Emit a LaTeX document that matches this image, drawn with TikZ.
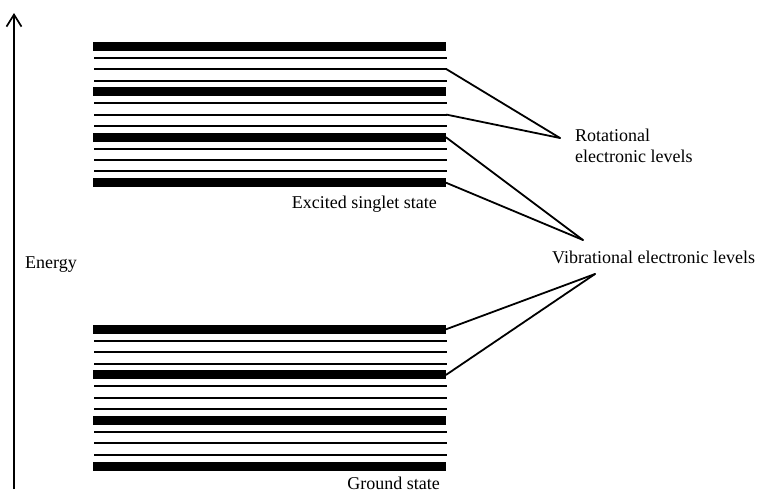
\documentclass[tikz,border=0pt]{standalone}
\usepackage{fontspec}
\setmainfont{Liberation Serif}
\usetikzlibrary{arrows.meta}
\begin{document}
\begin{tikzpicture}[x=1pt,y=-1pt,
  thickbar/.style={line width=9pt},
  thinbar/.style={line width=2pt},
  conn/.style={line width=1.8pt, line cap=round},
  lbl/.style={font=\rmfamily\fontsize{18}{21}\selectfont, inner sep=0pt}]
\useasboundingbox (0,0) rectangle (761,493);
% excited singlet state
\foreach \k in {0,1,2,3}{
  \pgfmathsetmacro\yy{46.5+45.4*\k}
  \draw[thickbar] (93,\yy) -- (446,\yy) coordinate (eT\k);
}
\foreach \k in {0,1,2}{
  \foreach \j in {1,2,3}{
    \pgfmathsetmacro\yy{46.5+45.4*\k+11.35*\j}
    \draw[thinbar] (94,\yy) -- (446.5,\yy) coordinate (et\k\j);
  }
}
% ground state
\foreach \k in {0,1,2,3}{
  \pgfmathsetmacro\yy{329.3+45.6*\k}
  \draw[thickbar] (93,\yy) -- (446,\yy) coordinate (gT\k);
}
\foreach \k in {0,1,2}{
  \foreach \j in {1,2,3}{
    \pgfmathsetmacro\yy{329.3+45.6*\k+11.4*\j}
    \draw[thinbar] (94,\yy) -- (446.5,\yy) coordinate (gt\k\j);
  }
}
% energy axis
\coordinate (axb) at (14,489);
\coordinate (axt) at (14,13);
\draw[line width=1.7pt, -{Straight Barb[length=12pt,width=15pt]}] (axb) -- (axt);
% labels
\node[lbl, anchor=base west] (energy) at (25,268) {Energy};
\node[lbl, anchor=base east] (excited) at (437,208) {Excited singlet state};
\node[lbl, anchor=base east] (ground) at (440,489) {Ground state};
\node[lbl, anchor=base west] (vib) at (552,263) {Vibrational electronic levels};
\node[lbl, anchor=base west] (rot1) at (575,141) {Rotational};
\node[lbl, anchor=base west] (rot2) at (575,162) {electronic levels};
% convergence points
\coordinate (rotP) at (560,138);
\coordinate (vibU) at (583,240);
\coordinate (vibL) at (595,274);
% connectors
\draw[conn] (et02) -- (rotP);
\draw[conn] (et12) -- (rotP);
\draw[conn] (eT2) -- (vibU);
\draw[conn] (eT3) -- (vibU);
\draw[conn] (gT0) -- (vibL);
\draw[conn] (gT1) -- (vibL);
\end{tikzpicture}
\end{document}
